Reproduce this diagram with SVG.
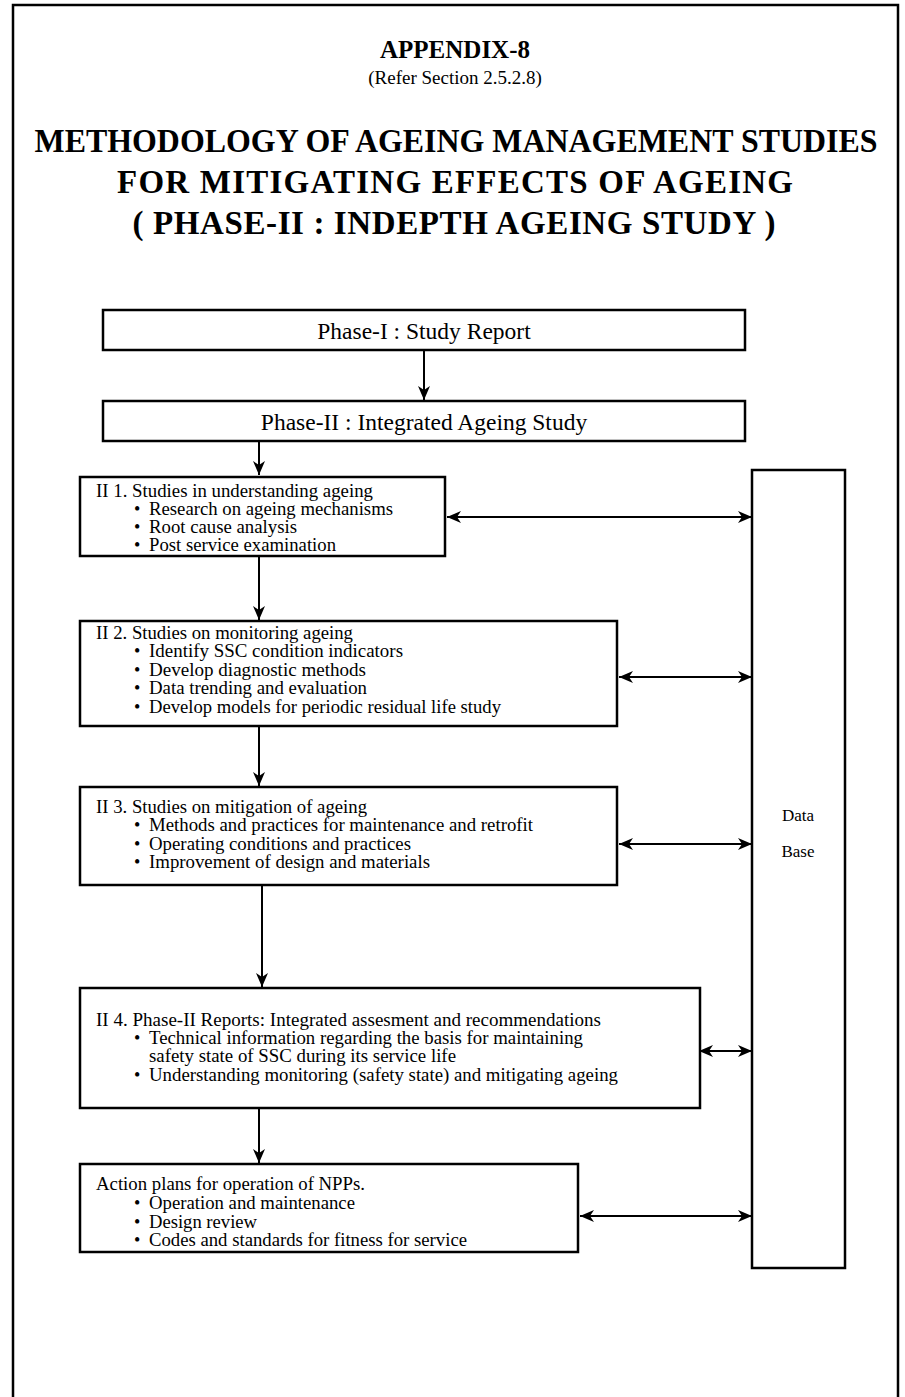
<svg xmlns="http://www.w3.org/2000/svg" width="905" height="1397" viewBox="0 0 905 1397">
  <style>
    .frame { fill: none; stroke: #000; stroke-width: 2.5; }
    .box { fill: #fff; stroke: #000; stroke-width: 2.5; }
    .link { fill: none; stroke: #000; stroke-width: 2; }
    .t { font-family: "Liberation Serif", "Times New Roman", serif; fill: #000; }
    .title { font-size: 25px; font-weight: bold; }
    .sub { font-size: 19px; }
    .head { font-size: 33px; font-weight: bold; }
    .phase { font-size: 23.5px; }
    .body { font-size: 18px; }
    .label { font-size: 17px; }
  </style>
  <defs>
    <marker id="arrow" viewBox="0 0 14 12" refX="14" refY="6" markerWidth="14" markerHeight="12" markerUnits="userSpaceOnUse" orient="auto-start-reverse">
      <path d="M0,0 L14,6 L0,12 L4,6 z" fill="#000"/>
    </marker>
  </defs>

  <!-- page frame, open at the bottom -->
  <path class="frame" d="M13,1397 V5 H898 V1397"/>

  <!-- headings -->
  <g id="heading">
    <text class="t title" x="455" y="58" text-anchor="middle">APPENDIX-8</text>
    <text class="t sub" x="455" y="84" text-anchor="middle">(Refer Section 2.5.2.8)</text>
    <text class="t head" x="456" y="152" text-anchor="middle" textLength="843" lengthAdjust="spacingAndGlyphs">METHODOLOGY OF AGEING MANAGEMENT STUDIES</text>
    <text class="t head" x="455" y="193" text-anchor="middle" textLength="676" lengthAdjust="spacing">FOR MITIGATING EFFECTS OF AGEING</text>
    <text class="t head" x="454" y="234" text-anchor="middle" textLength="643" lengthAdjust="spacing">( PHASE-II : INDEPTH AGEING STUDY )</text>
  </g>

  <!-- connectors -->
  <g id="connectors">
    <line class="link" x1="424" y1="350" x2="424" y2="400" marker-end="url(#arrow)"/>
    <line class="link" x1="259" y1="441" x2="259" y2="475" marker-end="url(#arrow)"/>
    <line class="link" x1="259" y1="556" x2="259" y2="620" marker-end="url(#arrow)"/>
    <line class="link" x1="259" y1="726" x2="259" y2="786" marker-end="url(#arrow)"/>
    <line class="link" x1="262" y1="885" x2="262" y2="987" marker-end="url(#arrow)"/>
    <line class="link" x1="259" y1="1108" x2="259" y2="1163" marker-end="url(#arrow)"/>
    <line class="link" x1="447" y1="517" x2="752" y2="517" marker-start="url(#arrow)" marker-end="url(#arrow)"/>
    <line class="link" x1="619" y1="677" x2="752" y2="677" marker-start="url(#arrow)" marker-end="url(#arrow)"/>
    <line class="link" x1="619" y1="844" x2="752" y2="844" marker-start="url(#arrow)" marker-end="url(#arrow)"/>
    <line class="link" x1="699" y1="1051" x2="752" y2="1051" marker-start="url(#arrow)" marker-end="url(#arrow)"/>
    <line class="link" x1="580" y1="1216" x2="752" y2="1216" marker-start="url(#arrow)" marker-end="url(#arrow)"/>
  </g>

  <g id="phase1">
    <rect class="box" x="103" y="310" width="642" height="40"/>
    <text class="t phase" x="424" y="339" text-anchor="middle">Phase-I : Study Report</text>
  </g>

  <g id="phase2">
    <rect class="box" x="103" y="401" width="642" height="40"/>
    <text class="t phase" x="424" y="430" text-anchor="middle">Phase-II : Integrated Ageing Study</text>
  </g>

  <g id="study1">
    <rect class="box" x="80" y="477" width="365" height="79"/>
    <text class="t body" x="96" y="497" textLength="277" lengthAdjust="spacingAndGlyphs">II 1. Studies in understanding ageing</text>
    <text class="t body" x="134" y="515">•</text><text class="t body" x="149" y="515" textLength="244" lengthAdjust="spacingAndGlyphs">Research on ageing mechanisms</text>
    <text class="t body" x="134" y="533">•</text><text class="t body" x="149" y="533" textLength="148" lengthAdjust="spacingAndGlyphs">Root cause analysis</text>
    <text class="t body" x="134" y="551">•</text><text class="t body" x="149" y="551" textLength="187" lengthAdjust="spacingAndGlyphs">Post service examination</text>
  </g>

  <g id="study2">
    <rect class="box" x="80" y="621" width="537" height="105"/>
    <text class="t body" x="96" y="639" textLength="257" lengthAdjust="spacingAndGlyphs">II 2. Studies on monitoring ageing</text>
    <text class="t body" x="134" y="657">•</text><text class="t body" x="149" y="657" textLength="254" lengthAdjust="spacingAndGlyphs">Identify SSC condition indicators</text>
    <text class="t body" x="134" y="676">•</text><text class="t body" x="149" y="676" textLength="217" lengthAdjust="spacingAndGlyphs">Develop diagnostic methods</text>
    <text class="t body" x="134" y="694">•</text><text class="t body" x="149" y="694" textLength="218" lengthAdjust="spacingAndGlyphs">Data trending and evaluation</text>
    <text class="t body" x="134" y="713">•</text><text class="t body" x="149" y="713" textLength="352" lengthAdjust="spacingAndGlyphs">Develop models for periodic residual life study</text>
  </g>

  <g id="study3">
    <rect class="box" x="80" y="787" width="537" height="98"/>
    <text class="t body" x="96" y="813" textLength="271" lengthAdjust="spacingAndGlyphs">II 3. Studies on mitigation of ageing</text>
    <text class="t body" x="134" y="831">•</text><text class="t body" x="149" y="831" textLength="384" lengthAdjust="spacingAndGlyphs">Methods and practices for maintenance and retrofit</text>
    <text class="t body" x="134" y="850">•</text><text class="t body" x="149" y="850" textLength="262" lengthAdjust="spacingAndGlyphs">Operating conditions and practices</text>
    <text class="t body" x="134" y="868">•</text><text class="t body" x="149" y="868" textLength="281" lengthAdjust="spacingAndGlyphs">Improvement of design and materials</text>
  </g>

  <g id="study4">
    <rect class="box" x="80" y="988" width="620" height="120"/>
    <text class="t body" x="96" y="1026" textLength="505" lengthAdjust="spacingAndGlyphs">II 4. Phase-II Reports: Integrated assesment and recommendations</text>
    <text class="t body" x="134" y="1044">•</text><text class="t body" x="149" y="1044" textLength="434" lengthAdjust="spacingAndGlyphs">Technical information regarding the basis for maintaining</text>
    <text class="t body" x="149" y="1062" textLength="307" lengthAdjust="spacingAndGlyphs">safety state of SSC during its service life</text>
    <text class="t body" x="134" y="1081">•</text><text class="t body" x="149" y="1081" textLength="469" lengthAdjust="spacingAndGlyphs">Understanding monitoring (safety state) and mitigating ageing</text>
  </g>

  <g id="action">
    <rect class="box" x="80" y="1164" width="498" height="88"/>
    <text class="t body" x="96" y="1190" textLength="269" lengthAdjust="spacingAndGlyphs">Action plans for operation of NPPs.</text>
    <text class="t body" x="134" y="1209">•</text><text class="t body" x="149" y="1209" textLength="206" lengthAdjust="spacingAndGlyphs">Operation and maintenance</text>
    <text class="t body" x="134" y="1228">•</text><text class="t body" x="149" y="1228" textLength="108" lengthAdjust="spacingAndGlyphs">Design review</text>
    <text class="t body" x="134" y="1246">•</text><text class="t body" x="149" y="1246" textLength="318" lengthAdjust="spacingAndGlyphs">Codes and standards for fitness for service</text>
  </g>

  <g id="database">
    <rect class="box" x="752" y="470" width="93" height="798"/>
    <text class="t label" x="798" y="821" text-anchor="middle">Data</text>
    <text class="t label" x="798" y="857" text-anchor="middle">Base</text>
  </g>
</svg>
